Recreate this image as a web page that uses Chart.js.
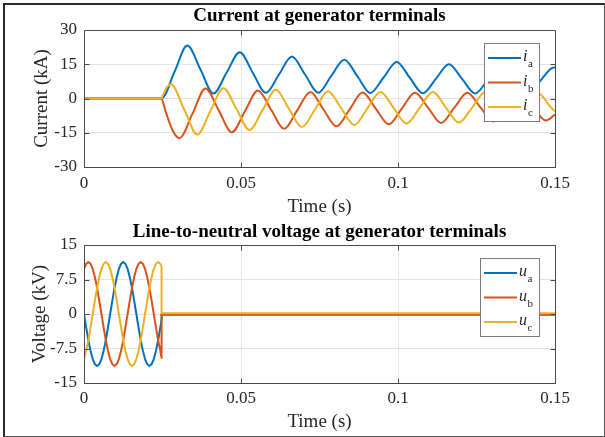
<!DOCTYPE html>
<html>
<head>
<meta charset="utf-8">
<title>Generator terminals</title>
<script src="https://cdn.jsdelivr.net/npm/chart.js@4.4.1/dist/chart.umd.min.js"></script>
<style>
  html, body { margin: 0; padding: 0; background: #fff; }
  #page { position: relative; width: 605px; height: 437px; overflow: hidden; background: #fff; }
  .panel { position: absolute; left: 0; width: 605px; }
  #frame {
    position: absolute; left: 3px; top: 3px; width: 602px; height: 434px; box-sizing: border-box;
    border-left: 2px solid #2b2b2b; border-top: 2px solid #2b2b2b;
    border-right: 1px solid #555; border-bottom: 1px solid #555; pointer-events: none;
  }
</style>
</head>
<body>
<div id="page">
  <div class="panel" style="top:0;height:220px"><canvas id="currentChart"></canvas></div>
  <div class="panel" style="top:220px;height:217px"><canvas id="voltageChart"></canvas></div>
  <div id="frame"></div>
</div>
<script>
// axis ticks
var xTicks = [0, 0.05, 0.1, 0.15];
var xTickLabels = ['0', '0.05', '0.1', '0.15'];
var currentTicks = [-30, -15, 0, 15, 30];
var currentTickLabels = ['-30', '-15', '0', '15', '30'];
var voltageTicks = [-15, -7.5, 0, 7.5, 15];
var voltageTickLabels = ['-15', '-7.5', '0', '7.5', '15'];
var phases = ['a', 'b', 'c'];

// phase currents (kA) at peaks, troughs and crossings
var tIa = [0, 0.0247, 0.0288, 0.0329, 0.0371, 0.0412, 0.0454, 0.0496, 0.0537, 0.0579, 0.0621,
  0.0662, 0.0704, 0.0746, 0.0787, 0.0829, 0.0871, 0.0912, 0.0954, 0.0996, 0.1037, 0.1079,
  0.1121, 0.1162, 0.1204, 0.1246, 0.1287, 0.1329, 0.1371, 0.1412, 0.1454, 0.1496, 0.15];
var ia = [0, 0, 11.6, 23.2, 12.7, 2.2, 11.3, 20.3, 11.4, 2.5, 10.5,
  18.4, 10.5, 2.5, 9.8, 17.0, 9.7, 2.4, 9.2, 16.0, 9.2, 2.3,
  8.7, 15.0, 8.6, 2.2, 8.3, 14.3, 8.2, 2.1, 7.9, 13.6, 13.5];

var tIb = [0, 0.0247, 0.0251, 0.0262, 0.0283, 0.0304, 0.0346, 0.0387, 0.0429, 0.0471, 0.0512,
  0.0554, 0.0596, 0.0637, 0.0679, 0.0721, 0.0762, 0.0804, 0.0846, 0.0887, 0.0929, 0.0971,
  0.1012, 0.1054, 0.1096, 0.1137, 0.1179, 0.1221, 0.1262, 0.1304, 0.1346, 0.1387, 0.1429,
  0.1471, 0.15];
var ib = [0, 0, -1.4, -6.5, -14.2, -17.3, -6.5, 4.4, -5.2, -14.8, -5.7,
  3.5, -4.9, -13.3, -5.2, 2.9, -4.7, -12.2, -4.8, 2.6, -4.4, -11.3,
  -4.4, 2.5, -4.1, -10.7, -4.1, 2.5, -3.8, -10.1, -3.9, 2.4, -3.6,
  -9.6, -7.0];

var tIc = [0, 0.0247, 0.0251, 0.0262, 0.0277, 0.0319, 0.0361, 0.0402, 0.0444, 0.0486, 0.0527,
  0.0569, 0.0611, 0.0652, 0.0694, 0.0736, 0.0777, 0.0819, 0.0861, 0.0902, 0.0944, 0.0986,
  0.1027, 0.1069, 0.1111, 0.1152, 0.1194, 0.1236, 0.1277, 0.1319, 0.1361, 0.1402, 0.1444,
  0.1486, 0.15];
var ic = [0, 0, 1.4, 4.5, 6.2, -4.8, -15.8, -5.7, 4.5, -4.7, -13.8,
  -5.0, 3.8, -4.4, -12.5, -4.7, 3.2, -4.2, -11.6, -4.4, 2.9, -4.1,
  -11.0, -4.1, 2.8, -3.9, -10.5, -4.0, 2.6, -3.7, -10.0, -3.8, 2.5,
  -3.7, -5.6];

// line-to-neutral voltages (kV)
var tU = [0, 0.00069, 0.00139, 0.00208, 0.00278, 0.00347, 0.00417, 0.00486, 0.00556, 0.00625,
  0.00694, 0.00764, 0.00833, 0.00903, 0.00972, 0.01042, 0.01111, 0.01181, 0.0125, 0.01319,
  0.01389, 0.01458, 0.01528, 0.01597, 0.01667, 0.01736, 0.01806, 0.01875, 0.01944, 0.02014,
  0.02083, 0.02153, 0.02222, 0.02292, 0.02361, 0.02431, 0.0247, 0.02471, 0.15];
var ua = [0, -2.9, -5.7, -8.0, -9.8, -10.9, -11.3, -10.9, -9.8, -8.0,
  -5.7, -2.9, 0, 2.9, 5.7, 8.0, 9.8, 10.9, 11.3, 10.9,
  9.8, 8.0, 5.7, 2.9, 0, -2.9, -5.7, -8.0, -9.8, -10.9,
  -11.3, -10.9, -9.8, -8.0, -5.7, -2.9, -1.2, -0.15, -0.15];
var ub = [9.8, 10.9, 11.3, 10.9, 9.8, 8.0, 5.7, 2.9, 0, -2.9,
  -5.7, -8.0, -9.8, -10.9, -11.3, -10.9, -9.8, -8.0, -5.7, -2.9,
  0, 2.9, 5.7, 8.0, 9.8, 10.9, 11.3, 10.9, 9.8, 8.0,
  5.7, 2.9, 0, -2.9, -5.7, -8.0, -9.5, 0, 0];
var uc = [-9.8, -8.0, -5.7, -2.9, 0, 2.9, 5.7, 8.0, 9.8, 10.9,
  11.3, 10.9, 9.8, 8.0, 5.7, 2.9, 0, -2.9, -5.7, -8.0,
  -9.8, -10.9, -11.3, -10.9, -9.8, -8.0, -5.7, -2.9, 0, 2.9,
  5.7, 8.0, 9.8, 10.9, 11.3, 10.9, 10.3, 0.15, 0.15];

var SERIF = '"Liberation Serif", "Times New Roman", serif';
var COLORS = ['#0072BD', '#D95319', '#EDB120'];
var TEXT = '#262626';

function points(t, v) {
    return t.map(function (x, i) {
        return {x: x, y: v[i]};
    });
}

// MATLAB-style box with inward ticks on all four sides
var axesBox = {
    id: 'axesBox',
    afterDraw: function (chart) {
        var ctx = chart.ctx,
            a = chart.chartArea,
            xs = chart.scales.x,
            ys = chart.scales.y,
            L = Math.round(a.left) + 0.5,
            R = Math.round(a.right) + 0.5,
            T = Math.round(a.top) + 0.5,
            B = Math.round(a.bottom) + 0.5;

        ctx.save();
        ctx.strokeStyle = '#4a4a4a';
        ctx.lineWidth = 1;
        ctx.beginPath();
        ctx.rect(L, T, R - L, B - T);
        xs.ticks.forEach(function (tk) {
            var px = Math.round(xs.getPixelForValue(tk.value)) + 0.5;
            ctx.moveTo(px, B);
            ctx.lineTo(px, B - 5);
            ctx.moveTo(px, T);
            ctx.lineTo(px, T + 5);
        });
        ys.ticks.forEach(function (tk) {
            var py = Math.round(ys.getPixelForValue(tk.value)) + 0.5;
            ctx.moveTo(L, py);
            ctx.lineTo(L + 5, py);
            ctx.moveTo(R, py);
            ctx.lineTo(R - 5, py);
        });
        ctx.stroke();
        ctx.restore();
    }
};

// legend with subscripted labels (i_a, u_b ...)
var subLegend = {
    id: 'subLegend',
    afterDraw: function (chart, args, opts) {
        var ctx = chart.ctx,
            a = chart.chartArea,
            mainFont = 'italic 16px ' + SERIF,
            subFont = '11px ' + SERIF,
            w1, w2, boxW, boxH = 78, right, top, left;

        ctx.save();
        ctx.font = mainFont;
        w1 = ctx.measureText(opts.symbol).width;
        ctx.font = subFont;
        w2 = ctx.measureText('b').width;
        boxW = Math.round(39 + w1 + w2 + 6);
        right = Math.round(a.right) - 16;
        top = Math.round(a.top) + 13;
        left = right - boxW;

        ctx.fillStyle = '#fff';
        ctx.fillRect(left, top, boxW, boxH);
        ctx.strokeStyle = '#7a7a7a';
        ctx.lineWidth = 1;
        ctx.strokeRect(left + 0.5, top + 0.5, boxW, boxH);

        chart.data.datasets.forEach(function (ds, i) {
            var y = top + 15 + i * 24.5;
            ctx.strokeStyle = ds.borderColor;
            ctx.lineWidth = 2;
            ctx.beginPath();
            ctx.moveTo(left + 4, y);
            ctx.lineTo(left + 37, y);
            ctx.stroke();
            ctx.fillStyle = TEXT;
            ctx.textAlign = 'left';
            ctx.textBaseline = 'alphabetic';
            ctx.font = mainFont;
            ctx.fillText(opts.symbol, left + 39, y + 3);
            ctx.font = subFont;
            ctx.fillText(opts.names[i], left + 39 + w1 + 0.5, y + 9);
        });
        ctx.restore();
    }
};

function buildChart(id, cfg) {
    var tickFont = {family: SERIF, size: 17};
    var titleFont = {family: SERIF, size: 19};

    return new Chart(document.getElementById(id), {
        type: 'line',
        data: {datasets: cfg.datasets},
        options: {
            responsive: true,
            maintainAspectRatio: false,
            animation: false,
            events: [],
            layout: {padding: {left: 0, right: 50, top: 0, bottom: 0}},
            plugins: {
                legend: {display: false},
                tooltip: {enabled: false},
                title: {
                    display: true,
                    fullSize: false,
                    text: cfg.title,
                    color: '#000',
                    font: {family: SERIF, size: 19, weight: 'bold'},
                    padding: cfg.titlePad
                },
                subLegend: {symbol: cfg.symbol, names: phases}
            },
            scales: {
                x: {
                    type: 'linear',
                    min: 0,
                    max: 0.15,
                    afterBuildTicks: function (scale) {
                        scale.ticks = xTicks.map(function (v) {
                            return {value: v};
                        });
                    },
                    afterFit: function (scale) {
                        scale.height = cfg.xHeight;
                    },
                    ticks: {
                        autoSkip: false,
                        maxRotation: 0,
                        padding: cfg.xTickPad,
                        color: TEXT,
                        font: tickFont,
                        callback: function (v, i) {
                            return xTickLabels[i];
                        }
                    },
                    grid: {color: '#e3e3e3', drawTicks: false},
                    border: {display: false},
                    title: {
                        display: true,
                        text: 'Time (s)',
                        color: TEXT,
                        font: titleFont,
                        padding: {top: 0, bottom: cfg.xTitlePad}
                    }
                },
                y: {
                    min: cfg.yTicks[0],
                    max: cfg.yTicks[cfg.yTicks.length - 1],
                    afterBuildTicks: function (scale) {
                        scale.ticks = cfg.yTicks.map(function (v) {
                            return {value: v};
                        });
                    },
                    afterFit: function (scale) {
                        scale.width = 84;
                    },
                    ticks: {
                        autoSkip: false,
                        padding: 7,
                        color: TEXT,
                        font: tickFont,
                        callback: function (v, i) {
                            return cfg.yTickLabels[i];
                        }
                    },
                    grid: {color: '#e3e3e3', drawTicks: false},
                    border: {display: false},
                    title: {
                        display: true,
                        text: cfg.yTitle,
                        color: TEXT,
                        font: titleFont,
                        padding: {top: cfg.yTitlePad, bottom: 0}
                    }
                }
            }
        },
        plugins: [axesBox, subLegend]
    });
}

function series(t, values, i, smooth) {
    return {
        label: phases[i],
        data: points(t, values),
        borderColor: COLORS[i],
        backgroundColor: COLORS[i],
        borderWidth: 2,
        pointRadius: 0,
        fill: false,
        tension: 0,
        cubicInterpolationMode: smooth ? 'monotone' : 'default',
        order: 3 - i
    };
}

buildChart('currentChart', {
    title: 'Current at generator terminals',
    titlePad: {top: 5.1, bottom: 2.1},
    yTitle: 'Current (kA)',
    yTitlePad: 30.6,
    yTicks: currentTicks,
    yTickLabels: currentTickLabels,
    xHeight: 53,
    xTickPad: 6.4,
    xTitlePad: 1.6,
    symbol: 'i',
    datasets: [
        series(tIa, ia, 0, true),
        series(tIb, ib, 1, true),
        series(tIc, ic, 2, true)
    ]
});

buildChart('voltageChart', {
    title: 'Line-to-neutral voltage at generator terminals',
    titlePad: {top: 0.6, bottom: 1.6},
    yTitle: 'Voltage (kV)',
    yTitlePad: 28.6,
    yTicks: voltageTicks,
    yTickLabels: voltageTickLabels,
    xHeight: 54,
    xTickPad: 5.4,
    xTitlePad: 3.6,
    symbol: 'u',
    datasets: [
        series(tU, ua, 0, false),
        series(tU, ub, 1, false),
        series(tU, uc, 2, false)
    ]
});
</script>
</body>
</html>
